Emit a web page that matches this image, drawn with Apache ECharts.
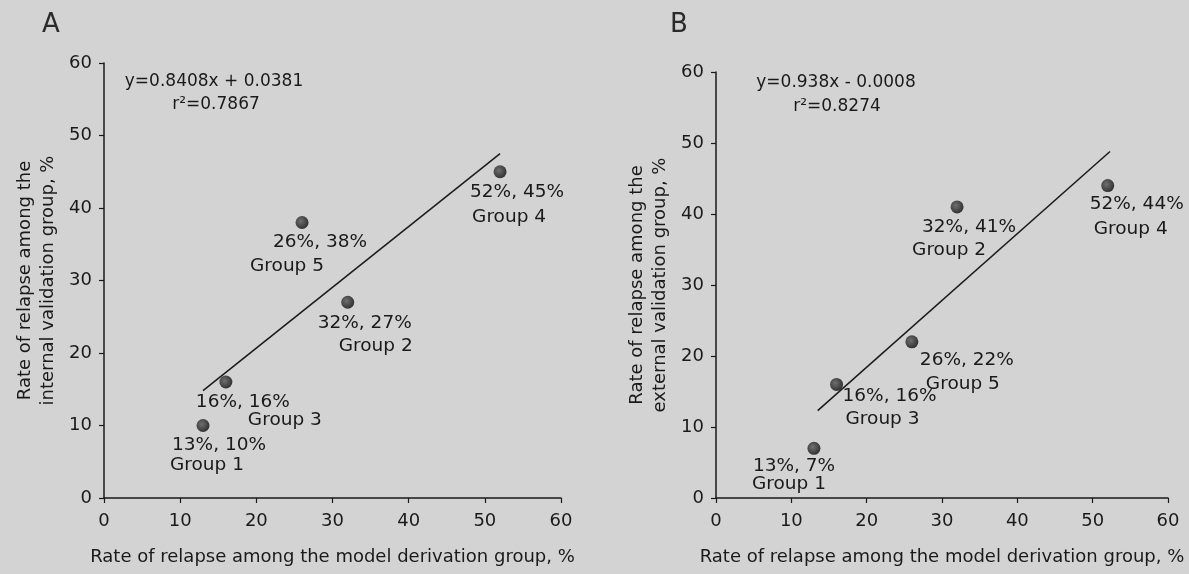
<!DOCTYPE html>
<html>
<head>
<meta charset="utf-8">
<script src="https://cdn.jsdelivr.net/npm/echarts@6/dist/echarts.min.js"></script>
<style>
html, body { margin: 0; padding: 0; background: #d3d3d3; }
#chart { width: 1189px; height: 574px; }
</style>
</head>
<body>
<div id="chart"></div>
<script>
// data
var groups = ['Group 1', 'Group 2', 'Group 3', 'Group 4', 'Group 5'];
var derivation = [13, 32, 16, 52, 26];
var internalVal = [10, 27, 16, 45, 38];
var externalVal = [7, 41, 16, 44, 22];
var fitA = [[13, 14.8], [52, 47.5]];
var fitB = [[13.5, 12.3], [52.3, 48.8]];

// label placement per group (line 1: "x%, y%", line 2: group name)
var offA1 = [[-31, 20], [-30, 21], [-30, 20], [-30, 20], [-29, 20]];
var offA2 = [[-33, 40], [-9, 44], [22, 38], [-28, 45], [-52, 44]];
var offB1 = [[-61, 18], [-35, 20], [6, 12], [-18, 19], [8, 18]];
var offB2 = [[-62, 36], [-45, 43], [9, 35], [-14, 44], [14, 42]];

var font = 'DejaVu Sans';
var ink = '#1a1a1a';

function pts(xs, ys, off, line) {
    return xs.map(function (x, i) {
        return {
            value: [x, ys[i]],
            label: {
                offset: off[i],
                formatter: line === 1 ? (x + '%, ' + ys[i] + '%') : groups[i]
            }
        };
    });
}

function makeAxis(idx, name, isY) {
    return {
        type: 'value',
        gridIndex: idx,
        min: 0, max: 60, interval: 10,
        name: name,
        nameLocation: 'middle',
        nameGap: isY ? 44 : 48,
        nameTextStyle: { fontFamily: font, fontSize: 18, color: ink, lineHeight: 23 },
        axisLine: { show: true, lineStyle: { color: ink, width: 1.5 } },
        axisTick: { show: true, length: 5, lineStyle: { color: ink, width: 1.2 } },
        axisLabel: { fontFamily: font, fontSize: 18, color: ink, margin: isY ? 12 : 14 },
        splitLine: { show: false }
    };
}

var labelBase = {
    show: true, position: 'inside', align: 'left', verticalAlign: 'middle',
    fontFamily: font, fontSize: 18.5, color: ink, textBorderWidth: 0
};

function panelSeries(idx, ys, fit, off1, off2) {
    return [
        {
            type: 'line', xAxisIndex: idx, yAxisIndex: idx, data: fit,
            symbol: 'none', silent: true,
            lineStyle: { color: ink, width: 1.5 }
        },
        {
            type: 'scatter', xAxisIndex: idx, yAxisIndex: idx,
            symbolSize: 13,
            itemStyle: {
                opacity: 1,
                color: {
                    type: 'radial', x: 0.4, y: 0.4, r: 0.6,
                    colorStops: [{ offset: 0, color: '#707070' }, { offset: 1, color: '#333' }]
                }
            },
            label: labelBase,
            data: pts(derivation, ys, off1, 1)
        },
        {
            type: 'scatter', xAxisIndex: idx, yAxisIndex: idx,
            symbolSize: 0, silent: true,
            itemStyle: { opacity: 1 },
            label: labelBase,
            data: pts(derivation, ys, off2, 2)
        }
    ];
}

var chart = echarts.init(document.getElementById('chart'));
chart.setOption({
    backgroundColor: '#d3d3d3',
    animation: false,
    grid: [
        { left: 104, top: 63, width: 457, height: 443 },
        { left: 716, top: 72, width: 452, height: 434 }
    ],
    xAxis: [
        makeAxis(0, 'Rate of relapse among the model derivation group, %', false),
        makeAxis(1, 'Rate of relapse among the model derivation group, %', false)
    ],
    yAxis: [
        makeAxis(0, 'Rate of relapse among the\ninternal validation group, %', true),
        makeAxis(1, 'Rate of relapse among the\nexternal validation group, %', true)
    ],
    graphic: [
        { type: 'text', x: 51, y: 25, style: { text: 'A', font: '26px ' + font, fill: '#2a2a2a', align: 'center', verticalAlign: 'middle' } },
        { type: 'text', x: 679, y: 25, style: { text: 'B', font: '26px ' + font, fill: '#2a2a2a', align: 'center', verticalAlign: 'middle' } },
        { type: 'text', x: 214, y: 82, style: { text: 'y=0.8408x + 0.0381', font: '17px ' + font, fill: ink, align: 'center', verticalAlign: 'middle' } },
        { type: 'text', x: 216, y: 105, style: { text: 'r\u00b2=0.7867', font: '17px ' + font, fill: ink, align: 'center', verticalAlign: 'middle' } },
        { type: 'text', x: 836, y: 83, style: { text: 'y=0.938x - 0.0008', font: '17px ' + font, fill: ink, align: 'center', verticalAlign: 'middle' } },
        { type: 'text', x: 837, y: 107, style: { text: 'r\u00b2=0.8274', font: '17px ' + font, fill: ink, align: 'center', verticalAlign: 'middle' } }
    ],
    series: panelSeries(0, internalVal, fitA, offA1, offA2)
        .concat(panelSeries(1, externalVal, fitB, offB1, offB2))
});
</script>
</body>
</html>
